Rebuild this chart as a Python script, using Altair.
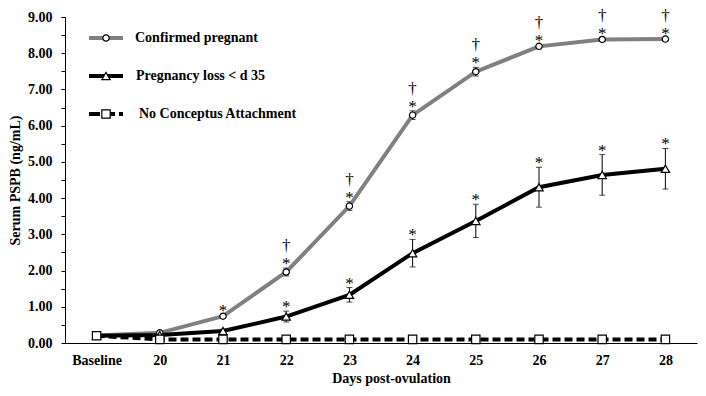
import altair as alt
import pandas as pd

categories = ["Baseline", "20", "21", "22", "23", "24", "25", "26", "27", "28"]

cp_mean = [0.21, 0.28, 0.74, 1.96, 3.78, 6.29, 7.49, 8.19, 8.38, 8.39]
cp_se = [0.02, 0.02, 0.03, 0.11, 0.12, 0.12, 0.12, 0.05, 0.04, 0.04]
cp_star = [False, False, True, True, True, True, True, True, True, True]
cp_dagger = [False, False, False, True, True, True, True, True, True, True]

pl_mean = [0.20, 0.22, 0.33, 0.73, 1.33, 2.48, 3.37, 4.30, 4.64, 4.81]
pl_se = [0.02, 0.02, 0.05, 0.15, 0.20, 0.38, 0.46, 0.55, 0.56, 0.56]
pl_star = [False, False, False, True, True, True, True, True, True, True]

nc_mean = [0.20, 0.10, 0.10, 0.10, 0.10, 0.10, 0.10, 0.10, 0.10, 0.10]
nc_se = [0.01, 0.01, 0.01, 0.01, 0.01, 0.01, 0.01, 0.01, 0.01, 0.01]

series_names = ["Confirmed pregnant", "Pregnancy loss < d 35", "No Conceptus Attachment"]

FONT = "Liberation Serif"

cp = pd.DataFrame({"day": categories, "mean": cp_mean, "se": cp_se,
                   "star": cp_star, "dagger": cp_dagger})
pl = pd.DataFrame({"day": categories, "mean": pl_mean, "se": pl_se, "star": pl_star})
nc = pd.DataFrame({"day": categories, "mean": nc_mean, "se": nc_se})

x_enc = alt.X("day:O", sort=categories,
              scale=alt.Scale(type="point", padding=0.5),
              axis=alt.Axis(title="Days post-ovulation", labelAngle=0, ticks=False,
                            labelPadding=10, titlePadding=4, titleX=326))
y_scale = alt.Scale(domain=[0, 9], nice=False, zero=True)
y_axis = alt.Axis(title="Serum PSPB (ng/mL)",
                  values=[i * 0.5 for i in range(19)],
                  labelExpr="datum.value % 1 === 0 ? format(datum.value, '.2f') : ''",
                  tickSize=4, labelPadding=9, titlePadding=5, grid=False)


def err_layers(df):
    base = alt.Chart(df).transform_calculate(
        lo="datum.mean - datum.se", hi="datum.mean + datum.se")
    rule = base.mark_rule(color="black", strokeWidth=1).encode(
        x=x_enc, y=alt.Y("lo:Q", scale=y_scale, axis=y_axis), y2="hi:Q")
    tlo = base.mark_tick(color="black", thickness=1, size=6).encode(
        x=x_enc, y=alt.Y("lo:Q", scale=y_scale, axis=y_axis))
    thi = base.mark_tick(color="black", thickness=1, size=6).encode(
        x=x_enc, y=alt.Y("hi:Q", scale=y_scale, axis=y_axis))
    return [rule, tlo, thi]


y_mean = alt.Y("mean:Q", scale=y_scale, axis=y_axis)

cp_line = alt.Chart(cp).mark_line(color="#808080", strokeWidth=4).encode(x=x_enc, y=y_mean)
pl_line = alt.Chart(pl).mark_line(color="black", strokeWidth=4).encode(x=x_enc, y=y_mean)
nc_line = alt.Chart(nc).mark_line(color="black", strokeWidth=4, strokeDash=[8, 4]).encode(x=x_enc, y=y_mean)

cp_pts = alt.Chart(cp).mark_point(shape="circle", filled=True, fill="white", stroke="black",
                                  strokeWidth=1.2, size=40, opacity=1).encode(x=x_enc, y=y_mean)
pl_pts = alt.Chart(pl).mark_point(shape="triangle-up", filled=True, fill="white", stroke="black",
                                  strokeWidth=1.2, size=70, opacity=1).encode(x=x_enc, y=y_mean)
nc_pts = alt.Chart(nc).mark_point(shape="square", filled=True, fill="white", stroke="black",
                                  strokeWidth=1.2, size=70, opacity=1).encode(x=x_enc, y=y_mean)


def ann(df, field, glyph, dy):
    return alt.Chart(df).transform_filter(f"datum.{field}").transform_calculate(
        hi="datum.mean + datum.se").mark_text(
        text=glyph, font=FONT, fontSize=17, color="black", baseline="alphabetic", dy=dy
    ).encode(x=x_enc, y=alt.Y("hi:Q", scale=y_scale, axis=y_axis))


cp_star_t = ann(cp, "star", "*", 1)
cp_dag_t = ann(cp, "dagger", "†", -17)
pl_star_t = ann(pl, "star", "*", 1)

# legend (drawn manually inside the plot area)
one = pd.DataFrame({"a": [0]})
legend_layers = []
leg_y = [21, 59, 97]
leg_color = ["#808080", "black", "black"]
leg_shape = ["circle", "triangle-up", "square"]
leg_size = [40, 70, 70]
leg_text_x = [70, 71, 74]
for i, name in enumerate(series_names):
    line_kwargs = dict(color=leg_color[i], strokeWidth=4)
    if i == 2:
        line_kwargs["strokeDash"] = [11, 4]
    legend_layers.append(alt.Chart(one).mark_rule(**line_kwargs).encode(
        x=alt.value(24), x2=alt.value(58), y=alt.value(leg_y[i])))
    legend_layers.append(alt.Chart(one).mark_point(
        shape=leg_shape[i], filled=True, fill="white", stroke="black", strokeWidth=1.2,
        size=leg_size[i], opacity=1).encode(x=alt.value(41), y=alt.value(leg_y[i])))
    legend_layers.append(alt.Chart(one).mark_text(
        text=name, font=FONT, fontSize=14, fontWeight="bold", color="black",
        align="left", baseline="middle").encode(x=alt.value(leg_text_x[i]), y=alt.value(leg_y[i])))

layers = (err_layers(cp) + err_layers(pl)
          + [cp_line, pl_line, nc_line, cp_pts, pl_pts, nc_pts,
             cp_star_t, cp_dag_t, pl_star_t] + legend_layers)

chart = alt.layer(*layers).properties(
    width=632, height=326,
    background="white",
    autosize=alt.AutoSizeParams(type="none"),
    padding={"left": 57, "top": 9, "right": 1, "bottom": 45},
).configure_view(stroke=None).configure_axis(
    domainColor="black", domainWidth=1, tickColor="black",
    labelFont=FONT, labelFontWeight="bold", labelFontSize=14, labelColor="black",
    titleFont=FONT, titleFontWeight="bold", titleFontSize=14, titleColor="black",
)

chart.save("out.html", embed_options={"renderer": "svg", "actions": False})
